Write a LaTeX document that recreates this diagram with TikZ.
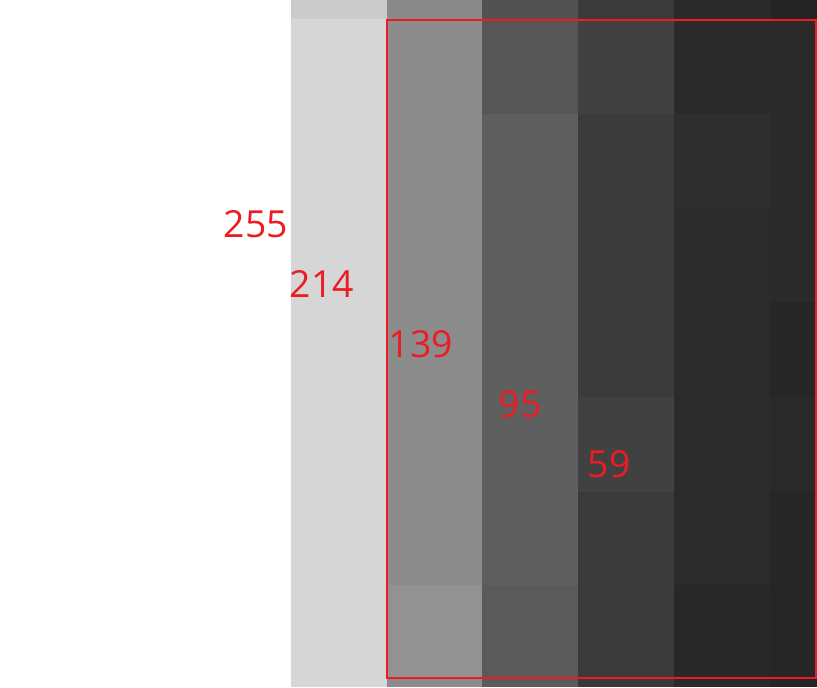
\documentclass[tikz,border=0pt]{standalone}
\usepackage{fontspec}
\setmainfont{Open Sans}
\definecolor{mark}{HTML}{ED1C24}
\begin{document}
\begin{tikzpicture}[x=0.75pt,y=-0.75pt,
  lbl/.style={text=mark,font=\fontsize{28}{30}\selectfont,inner sep=0pt},
  frame/.style={draw=mark,line width=1pt}]
\useasboundingbox (0,0) rectangle (817,687);
\fill[white] (0,0) rectangle (817,687);
% column 0
\fill[fill={rgb,255:red,203;green,203;blue,203}] (291,0) rectangle (387,19);
\fill[fill={rgb,255:red,214;green,214;blue,214}] (291,19) rectangle (387,687);
% column 1
\fill[fill={rgb,255:red,138;green,138;blue,138}] (387,0) rectangle (482,19);
\fill[fill={rgb,255:red,140;green,140;blue,140}] (387,19) rectangle (482,585);
\fill[fill={rgb,255:red,146;green,146;blue,146}] (387,585) rectangle (482,679);
\fill[fill={rgb,255:red,139;green,139;blue,139}] (387,679) rectangle (482,687);
% column 2
\fill[fill={rgb,255:red,82;green,82;blue,82}] (482,0) rectangle (578,19);
\fill[fill={rgb,255:red,86;green,86;blue,86}] (482,19) rectangle (578,114);
\fill[fill={rgb,255:red,95;green,95;blue,95}] (482,114) rectangle (578,585);
\fill[fill={rgb,255:red,90;green,90;blue,90}] (482,585) rectangle (578,679);
\fill[fill={rgb,255:red,91;green,91;blue,91}] (482,679) rectangle (578,687);
% column 3
\fill[fill={rgb,255:red,58;green,58;blue,58}] (578,0) rectangle (674,19);
\fill[fill={rgb,255:red,65;green,65;blue,65}] (578,19) rectangle (674,114);
\fill[fill={rgb,255:red,59;green,59;blue,59}] (578,114) rectangle (674,397);
\fill[fill={rgb,255:red,65;green,65;blue,65}] (578,397) rectangle (674,492);
\fill[fill={rgb,255:red,58;green,58;blue,58}] (578,492) rectangle (674,679);
\fill[fill={rgb,255:red,56;green,56;blue,56}] (578,679) rectangle (674,687);
% column 4
\fill[fill={rgb,255:red,42;green,42;blue,42}] (674,0) rectangle (770,114);
\fill[fill={rgb,255:red,46;green,46;blue,46}] (674,114) rectangle (770,208);
\fill[fill={rgb,255:red,43;green,43;blue,43}] (674,208) rectangle (770,585);
\fill[fill={rgb,255:red,40;green,40;blue,40}] (674,585) rectangle (770,679);
\fill[fill={rgb,255:red,42;green,42;blue,42}] (674,679) rectangle (770,687);
% column 5
\fill[fill={rgb,255:red,36;green,36;blue,36}] (770,0) rectangle (817,19);
\fill[fill={rgb,255:red,42;green,42;blue,42}] (770,19) rectangle (817,302);
\fill[fill={rgb,255:red,38;green,38;blue,38}] (770,302) rectangle (817,397);
\fill[fill={rgb,255:red,41;green,41;blue,41}] (770,397) rectangle (817,492);
\fill[fill={rgb,255:red,38;green,38;blue,38}] (770,492) rectangle (817,687);
% red frame
\draw[frame] (387,20) rectangle (816,678);
% labels
\node[lbl] (v255) at (256,224) {255};
\node[lbl] (v214) at (322,284) {214};
\node[lbl] (v139) at (421,344) {139};
\node[lbl] (v95) at (520,404) {95};
\node[lbl] (v59) at (609,464) {59};
\end{tikzpicture}
\end{document}
